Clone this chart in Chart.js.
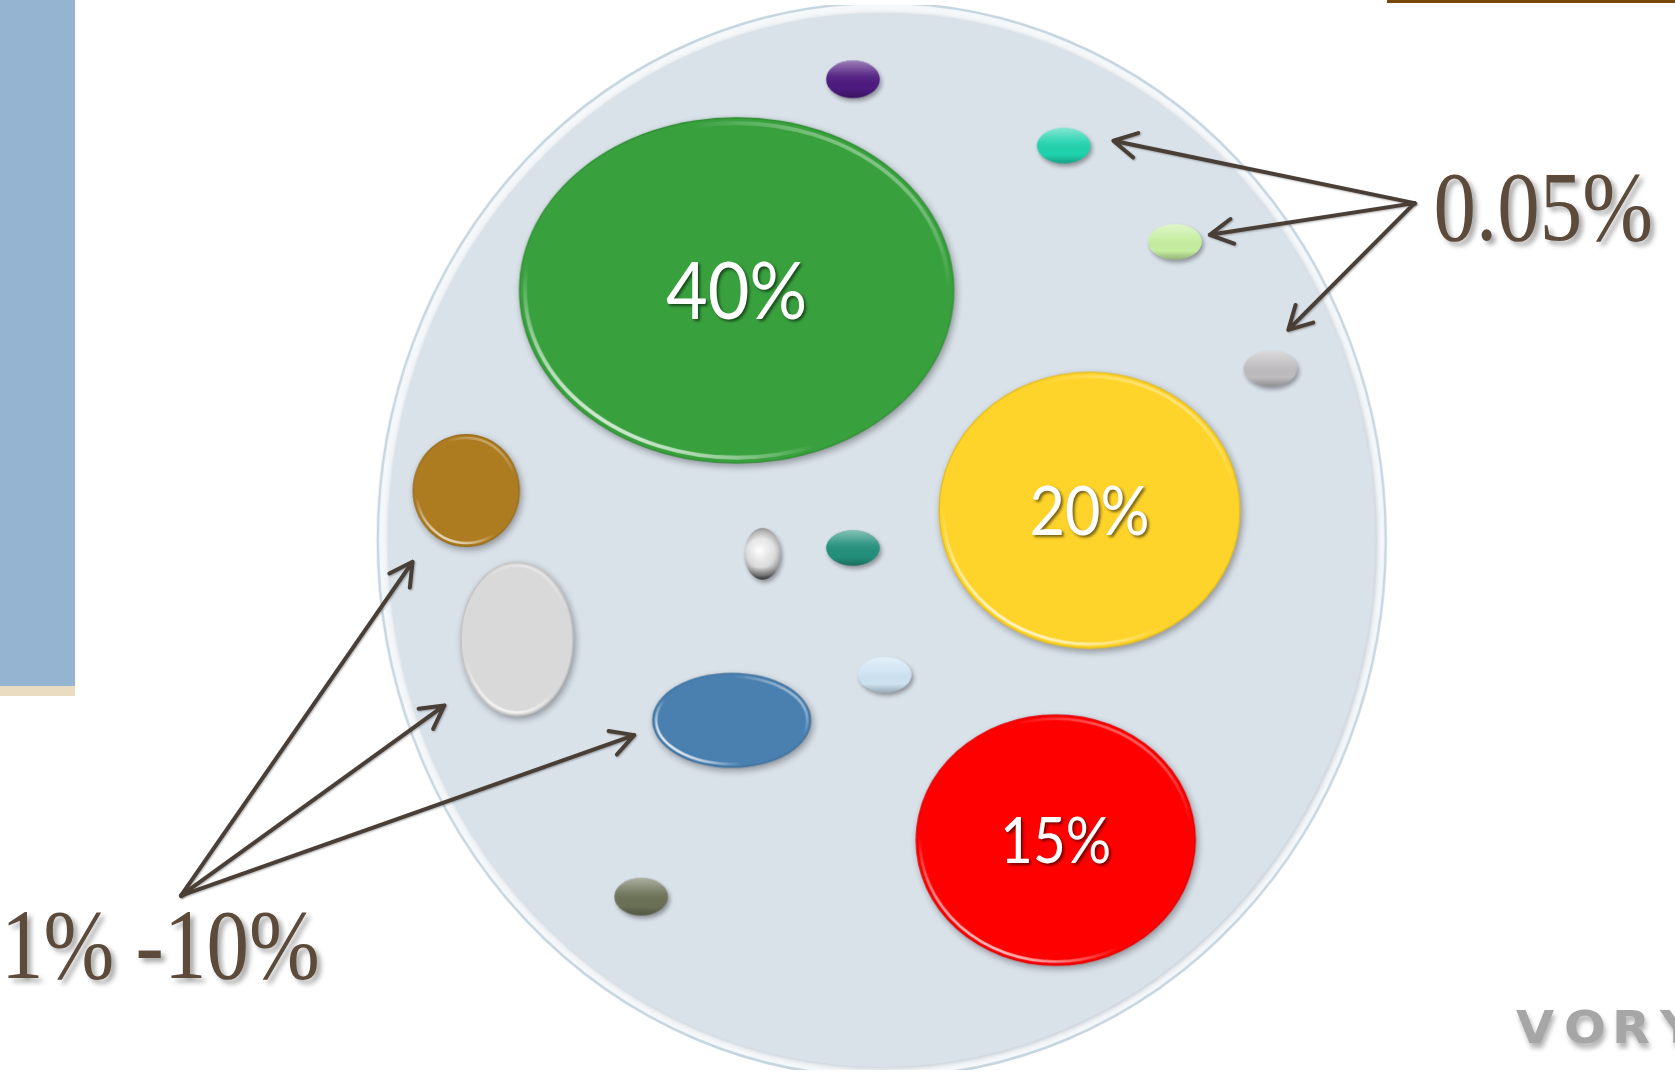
<!DOCTYPE html>
<html>
<head>
<meta charset="utf-8">
<script src="https://cdn.jsdelivr.net/npm/chart.js@4.4.1/dist/chart.umd.min.js"></script>
<style>
  html, body { margin: 0; padding: 0; background: #fff; overflow: hidden; }
  #wrap { position: relative; width: 1675px; height: 1075px; }
  .side-bar { position: absolute; left: 0; top: 0; width: 75px; height: 686px; background: #94b4d1; }
  .side-strip { position: absolute; left: 0; top: 686px; width: 75px; height: 10px; background: #eadcc0; }
  .top-line { position: absolute; left: 1387px; top: 0; width: 288px; height: 3px; background: #774808; }
  canvas { position: absolute; left: 0; top: 0; }
</style>
</head>
<body>
<div id="wrap">
  <div class="side-bar"></div>
  <div class="side-strip"></div>
  <div class="top-line"></div>
  <canvas id="bubbleChart" width="1675" height="1075"></canvas>
</div>
<script>
// Bubbles (units: x 0-167.5, y 0-107.5)
const bubbleNames = ['Purple', 'Turquoise', 'Lime', 'Grey', 'Green', 'Yellow', 'Red', 'Gold', 'Silver', 'Teal', 'Pearl', 'Blue', 'Ice', 'Olive'];
const bubbleX = [85.3, 106.5, 117.7, 127.3, 73.6, 109.1, 105.7, 46.4, 76.2, 85.3, 51.5, 73.1, 88.5, 64.0];
const bubbleY = [7.5, 14.2, 23.9, 36.7, 28.8, 51.0, 84.3, 49.0, 55.4, 54.8, 64.0, 72.2, 67.6, 90.0];
const bubbleW = [2.7, 2.7, 2.7, 2.7, 21.9, 15.2, 14.1, 5.4, 1.8, 2.7, 5.7, 8.0, 2.7, 2.7];
const bubbleH = [1.9, 1.8, 1.8, 1.8, 17.5, 14.0, 12.7, 5.7, 2.6, 1.8, 7.8, 4.8, 1.8, 1.9];
const bubbleLabels = ['', '', '', '', '40%', '20%', '15%', '', '', '', '', '', '', ''];

// Plate behind the bubbles
const plateX = [88.2];
const plateY = [54.0];
const plateW = [50.7];
const plateH = [54.2];

// Callouts with arrows
const calloutTexts = ['0.05%', '1% -10%'];
const calloutX = [143.7, -0.4];
const calloutY = [23.7, 98.2];
const hubX = [141.8, 17.7];
const hubY = [20.0, 89.9];
const tipX = [[111.5, 121.2, 129.1], [41.0, 44.2, 63.3]];
const tipY = [[13.7, 23.2, 32.8], [56.2, 70.7, 73.7]];

// Styles
const bubbleColors = ['#4e1a80', '#1fd3ae', '#c6efa0', '#bfbdbf', '#38a13d', '#ffd42a', '#ff0000',
    '#ad7c20', '#e6e6e6', '#23907c', '#d9d9d9', '#4a80b0', '#cfe4f3', '#6b7156'];
const labelSizes = { '40%': 80, '20%': 68, '15%': 63 };

function ellipsePath(g, cx, cy, rx, ry) {
    g.beginPath();
    g.ellipse(cx, cy, rx, ry, 0, 0, Math.PI * 2);
}

// Glossy gem drawn into a canvas, used as a point style
function makeGem(rx, ry, color, name) {
    const pad = 12;
    const c = document.createElement('canvas');
    c.width = Math.ceil(rx * 2 + pad * 2);
    c.height = Math.ceil(ry * 2 + pad * 2);
    const g = c.getContext('2d');
    const cx = c.width / 2, cy = c.height / 2;
    const small = Math.min(rx, ry) < 35;

    g.save();
    g.shadowColor = 'rgba(0,0,0,0.35)';
    g.shadowBlur = small ? 4 : 7;
    g.shadowOffsetX = 2;
    g.shadowOffsetY = 3;
    ellipsePath(g, cx, cy, rx, ry);
    if (name === 'Silver') {
        const rg = g.createRadialGradient(cx - rx * 0.2, cy - ry * 0.1, 1, cx, cy, Math.max(rx, ry));
        rg.addColorStop(0, '#ffffff');
        rg.addColorStop(0.55, '#dcdcdc');
        rg.addColorStop(0.85, '#8a8a8a');
        rg.addColorStop(1, '#3f3f3f');
        g.fillStyle = rg;
    } else {
        g.fillStyle = color;
    }
    g.fill();
    g.restore();

    g.save();
    ellipsePath(g, cx, cy, rx, ry);
    g.clip();
    if (small) {
        const vg = g.createLinearGradient(0, cy - ry, 0, cy + ry);
        vg.addColorStop(0, 'rgba(255,255,255,0.45)');
        vg.addColorStop(0.4, 'rgba(255,255,255,0.08)');
        vg.addColorStop(0.75, 'rgba(0,0,0,0)');
        vg.addColorStop(1, 'rgba(0,0,0,0.25)');
        g.fillStyle = vg;
        g.fillRect(0, 0, c.width, c.height);
    } else {
        const lw = Math.max(2.5, Math.min(rx, ry) * 0.022);
        const lg = g.createLinearGradient(cx + rx * 0.5, cy - ry, cx - rx * 0.5, cy + ry);
        lg.addColorStop(0, 'rgba(255,255,255,0.5)');
        lg.addColorStop(0.22, 'rgba(255,255,255,0)');
        lg.addColorStop(0.72, 'rgba(255,255,255,0)');
        lg.addColorStop(1, 'rgba(255,255,255,0.95)');
        g.lineWidth = lw;
        g.strokeStyle = lg;
        ellipsePath(g, cx, cy, rx - lw * 1.6, ry - lw * 1.6);
        g.stroke();
        g.lineWidth = 3;
        g.strokeStyle = 'rgba(0,0,0,0.1)';
        ellipsePath(g, cx, cy, rx, ry);
        g.stroke();
    }
    g.restore();
    return c;
}

function makePlate(rx, ry) {
    const pad = 6;
    const c = document.createElement('canvas');
    c.width = Math.ceil(rx * 2 + pad * 2);
    c.height = Math.ceil(ry * 2 + pad * 2);
    const g = c.getContext('2d');
    const cx = c.width / 2, cy = c.height / 2;
    ellipsePath(g, cx, cy, rx, ry);
    g.fillStyle = '#f5f8fa';
    g.fill();
    g.lineWidth = 2.5;
    g.strokeStyle = '#c6d6e0';
    g.stroke();
    g.save();
    g.shadowColor = 'rgba(80,100,120,0.35)';
    g.shadowBlur = 5;
    g.shadowOffsetX = 1;
    g.shadowOffsetY = 1;
    ellipsePath(g, cx, cy, rx - 10, ry - 10);
    g.fillStyle = '#d9e1e9';
    g.fill();
    g.restore();
    return c;
}

// Ellipse radii in pixels (null before layout)
function pixelSize(chart, raw) {
    const xs = chart.scales.x, ys = chart.scales.y;
    if (!xs || !ys) return null;
    const rx = Math.abs(xs.getPixelForValue(raw.x + raw.w) - xs.getPixelForValue(raw.x));
    const ry = Math.abs(ys.getPixelForValue(raw.y + raw.h) - ys.getPixelForValue(raw.y));
    if (!isFinite(rx) || !isFinite(ry) || rx < 1 || ry < 1) return null;
    return { rx: rx, ry: ry };
}

const bubblePoints = bubbleNames.map((name, i) => ({
    x: bubbleX[i], y: bubbleY[i], w: bubbleW[i], h: bubbleH[i], name: name, label: bubbleLabels[i]
}));
const platePoints = plateX.map((x, i) => ({ x: x, y: plateY[i], w: plateW[i], h: plateH[i] }));

// Labels inside bubbles, callout texts and arrows
const annotationPlugin = {
    id: 'annotations',
    afterDatasetsDraw(chart) {
        const g = chart.ctx;
        const xs = chart.scales.x, ys = chart.scales.y;

        // bubble labels
        const meta = chart.getDatasetMeta(0);
        meta.data.forEach((el, i) => {
            const text = bubbleLabels[i];
            if (!text) return;
            const size = labelSizes[text];
            g.save();
            g.translate(el.x, el.y + size * 0.36);
            g.scale(0.9, 1);
            g.font = size + 'px Lato';
            g.textAlign = 'center';
            g.textBaseline = 'alphabetic';
            g.shadowColor = 'rgba(0,0,0,0.55)';
            g.shadowBlur = 3;
            g.shadowOffsetX = 2;
            g.shadowOffsetY = 2;
            g.fillStyle = '#ffffff';
            g.fillText(text, 0, 0);
            g.restore();
        });

        // arrows
        hubX.forEach((hx, k) => {
            const x0 = xs.getPixelForValue(hx), y0 = ys.getPixelForValue(hubY[k]);
            tipX[k].forEach((tx, j) => {
                const x1 = xs.getPixelForValue(tx), y1 = ys.getPixelForValue(tipY[k][j]);
                const a = Math.atan2(y1 - y0, x1 - x0);
                const len = 26, spread = 0.5;
                g.save();
                g.shadowColor = 'rgba(0,0,0,0.3)';
                g.shadowBlur = 2;
                g.shadowOffsetX = 1;
                g.shadowOffsetY = 1;
                g.strokeStyle = '#4a3f36';
                g.lineWidth = 4;
                g.lineCap = 'round';
                g.lineJoin = 'round';
                g.beginPath();
                g.moveTo(x0, y0);
                g.lineTo(x1, y1);
                g.moveTo(x1 - len * Math.cos(a - spread), y1 - len * Math.sin(a - spread));
                g.lineTo(x1, y1);
                g.lineTo(x1 - len * Math.cos(a + spread), y1 - len * Math.sin(a + spread));
                g.stroke();
                g.restore();
            });
        });

        // callout texts
        calloutTexts.forEach((text, k) => {
            g.save();
            g.translate(xs.getPixelForValue(calloutX[k]), ys.getPixelForValue(calloutY[k]));
            g.scale(0.85, 1);
            g.font = '100px "Liberation Serif"';
            g.textAlign = 'left';
            g.textBaseline = 'alphabetic';
            g.shadowColor = 'rgba(0,0,0,0.35)';
            g.shadowBlur = 5;
            g.shadowOffsetX = 4;
            g.shadowOffsetY = 4;
            g.fillStyle = '#5c4b3b';
            g.fillText(text, 0, 0);
            g.restore();
        });

        // watermark, cut at the right edge
        g.save();
        g.font = 'bold 44px "DejaVu Sans"';
        g.textBaseline = 'alphabetic';
        g.shadowColor = 'rgba(0,0,0,0.3)';
        g.shadowBlur = 5;
        g.shadowOffsetX = 2;
        g.shadowOffsetY = 5;
        g.fillStyle = '#a6a6a6';
        ['V', 'O', 'R', 'Y'].forEach((ch, i) => {
            g.save();
            g.translate(1516 + i * 48, 1043);
            g.scale(1.12, 1);
            g.fillText(ch, 0, 0);
            g.restore();
        });
        g.restore();
    }
};

function initializeChart() {
    const ctx = document.getElementById('bubbleChart').getContext('2d');
    new Chart(ctx, {
        type: 'scatter',
        data: {
            datasets: [{
                label: 'Shares',
                data: bubblePoints,
                order: 1,
                pointRadius: 2,
                pointStyle: (c) => {
                    if (!c.raw) return 'circle';
                    const s = pixelSize(c.chart, c.raw);
                    if (!s) return 'circle';
                    return makeGem(s.rx, s.ry, bubbleColors[c.dataIndex], c.raw.name);
                }
            }, {
                label: 'Plate',
                data: platePoints,
                order: 2,
                pointRadius: 2,
                pointStyle: (c) => {
                    if (!c.raw) return 'circle';
                    const s = pixelSize(c.chart, c.raw);
                    if (!s) return 'circle';
                    return makePlate(s.rx, s.ry);
                }
            }]
        },
        options: {
            responsive: false,
            animation: false,
            events: [],
            layout: { padding: 0 },
            plugins: {
                legend: { display: false },
                tooltip: { enabled: false }
            },
            scales: {
                x: { type: 'linear', min: 0, max: 167.5, display: false },
                y: { type: 'linear', min: 0, max: 107.5, reverse: true, display: false }
            }
        },
        plugins: [annotationPlugin]
    });
}

document.addEventListener('DOMContentLoaded', initializeChart);
</script>
</body>
</html>
